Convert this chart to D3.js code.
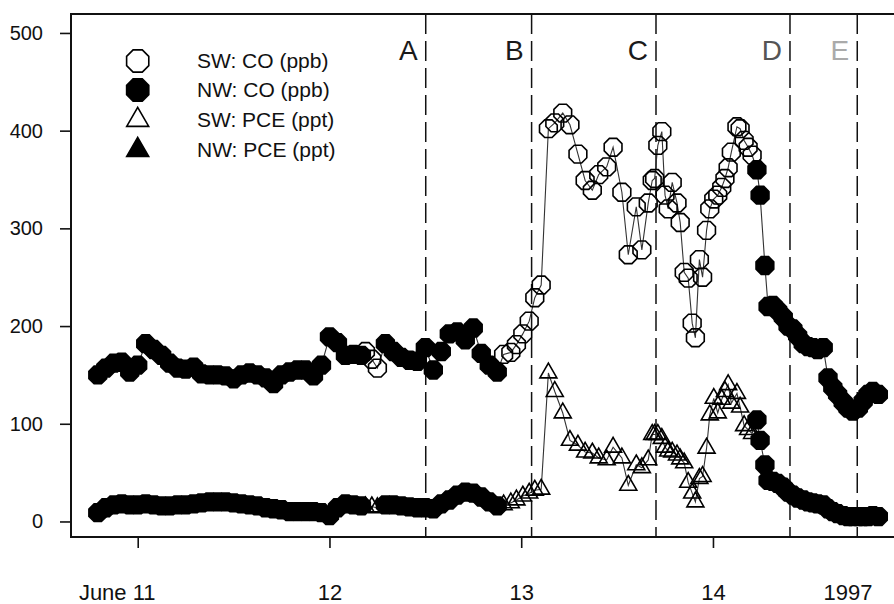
<!DOCTYPE html>
<html>
<head>
<meta charset="utf-8">
<script src="https://cdn.jsdelivr.net/npm/d3@7"></script>
<style>
  body { margin: 0; background: #fff; }
  text { font-family: "Liberation Sans", Arial, Helvetica, sans-serif; fill: #111; }
</style>
</head>
<body>
<svg id="chart"></svg>
<script>
// time in hours after June 11 00:00
const hours = [
  -5, -4, -3, -2, -1, 0, 1, 2, 3, 4, 5, 6, 7, 8, 9, 10, 11, 12, 13, 14, 15, 16, 17, 18, 19, 20, 21, 22, 23,
  24, 25, 26, 27, 28, 28.5, 29.3, 30, 31, 32, 33, 34, 35, 36, 37, 38, 39, 40, 41, 42, 43, 44, 45,
  45.8, 46.7, 47.4, 48.2, 49.0, 49.7, 50.5, 51.4, 52.2, 53.2, 54.1, 55.1, 56.0, 56.9, 57.7, 58.7, 59.5,
  60.6, 61.4, 62.4, 63.1, 63.9, 64.4, 64.7, 65.1, 65.6, 66.0, 66.4, 66.9, 67.5, 67.9, 68.4, 68.9, 69.4,
  69.8, 70.3, 70.7, 71.2, 71.6, 72.1, 72.6, 73.1, 73.5, 73.9, 74.3, 75.0, 75.4, 75.9, 76.4, 76.9,
  77.5, 77.9, 78.5, 78.9, 79.5, 80.1, 80.8, 81.4, 82.0, 82.6, 83.3, 83.9, 84.5, 85.1, 85.8, 86.4,
  87.0, 87.6, 88.3, 88.9, 89.5, 90.2, 90.8, 91.4, 92.0, 92.7
];
const coPpb = [
  150, 157, 162, 163, 153, 160, 182, 176, 170, 162, 157, 156, 158, 151, 150, 150, 149, 146, 150, 152, 150, 147, 141, 150, 153, 155, 155, 149, 160,
  189, 183, 170, 171, 170, 174, 166, 157, 182, 174, 168, 165, 164, 178, 155, 174, 192, 194, 186, 198, 172, 160, 153,
  171, 173, 181, 192, 205, 229, 242, 402, 408, 418, 406, 376, 349, 339, 355, 363, 383,
  337, 273, 322, 278, 326, 349, 351, 385, 399, 334, 320, 347, 326, 306, 255, 249, 203,
  188, 268, 250, 298, 320, 330, 334, 342, 351, 362, 378, 404, 402, 390, 383, 375,
  360, 334, 262, 220, 221, 216, 209, 200, 197, 190, 182, 179, 178, 176, 178, 147,
  137, 130, 122, 116, 113, 116, 123, 130, 133, 130
];
const pcePpt = [
  9, 14, 17, 18, 17, 17, 18, 17, 16, 16, 17, 17, 18, 19, 20, 20, 20, 19, 18, 17, 16, 14, 13, 12, 10, 10, 10, 10, 9,
  6, 14, 18, 17, 16, 15, 15, 14, 17, 17, 16, 15, 14, 14, 13, 18, 22, 27, 30, 29, 25, 20, 16,
  17, 19, 22, 26, 29, 32, 33, 152, 133, 111, 83, 78, 71, 70, 65, 63, 76,
  65, 37, 58, 55, 63, 89, 89, 89, 85, 76, 72, 71, 68, 64, 60, 40, 29,
  20, 44, 46, 75, 109, 126, 111, 125, 133, 140, 121, 131, 117, 98, 94, 90,
  104, 83, 58, 42, 41, 39, 35, 30, 27, 24, 22, 20, 19, 18, 17, 13,
  10, 8, 6, 5, 5, 5, 5, 5, 6, 5
];
// wind sector of each sample
const swHours = [28.5, 29.3, 30];
const swStart = 45.8, swEnd = 76.9;

const regionNames = ["A", "B", "C", "D", "E"];
const regionBounds = [36.05, 49.3, 64.87, 81.64, 90.06];
const regionColors = ["#1a1a1a", "#1a1a1a", "#1a1a1a", "#555", "#aaa"];

const xTickHours = [0, 24, 48, 72];
const xTickLabels = ["June 11", "12", "13", "14"];
const yearLabel = "1997";
const yearHour = 88.9;
const yTicks = [0, 100, 200, 300, 400, 500];

const legendLabels = ["SW: CO (ppb)", "NW: CO (ppb)", "SW: PCE (ppt)", "NW: PCE (ppt)"];

const width = 894;
const height = 604;
const plotLeft = 71, plotTop = 14, plotRight = 900, plotBottom = 537;

const rows = hours.map((h, i) => ({
  h: h,
  co: coPpb[i],
  pce: pcePpt[i],
  sw: swHours.includes(h) || (h >= swStart && h <= swEnd)
}));

const svg = d3.select("#chart")
  .attr("width", width)
  .attr("height", height);

const x = d3.scaleLinear()
  .domain([-8.35, 95.41])
  .range([plotLeft, plotRight]);

const y = d3.scaleLinear()
  .domain([-15.9, 519.4])
  .range([plotBottom, plotTop]);

// 마커 모양
function octagon(r) {
  const pts = d3.range(8).map(i => {
    const a = Math.PI / 8 + i * Math.PI / 4;
    return [r * Math.cos(a), r * Math.sin(a)];
  });
  return "M" + pts.join("L") + "Z";
}
function triangle(s) {
  const h = s * Math.sqrt(3) / 2;
  return `M0,${-2 * h / 3}L${s / 2},${h / 3}L${-s / 2},${h / 3}Z`;
}

// axes
svg.append("g")
  .attr("transform", `translate(${plotLeft},0)`)
  .call(d3.axisLeft(y).tickValues(yTicks).tickSize(11).tickPadding(17))
  .call(g => g.select(".domain").remove())
  .call(g => g.selectAll("line").attr("stroke", "#111").attr("stroke-width", 1.6))
  .call(g => g.selectAll("text").attr("font-size", 20).attr("font-family", null));

const xAxis = svg.append("g")
  .attr("transform", `translate(0,${plotBottom})`)
  .call(d3.axisBottom(x).tickValues(xTickHours).tickFormat((d, i) => xTickLabels[i]).tickSize(11).tickPadding(36))
  .call(g => g.select(".domain").remove())
  .call(g => g.selectAll("line").attr("stroke", "#111").attr("stroke-width", 1.6))
  .call(g => g.selectAll("text").attr("font-size", 22).attr("font-family", null));
xAxis.selectAll("text").filter((d, i) => i === 0).attr("dx", -21);

svg.append("text")
  .attr("x", x(yearHour))
  .attr("y", 600)
  .attr("text-anchor", "middle")
  .attr("font-size", 22)
  .text(yearLabel);

// frame
svg.append("rect")
  .attr("x", plotLeft).attr("y", plotTop)
  .attr("width", plotRight - plotLeft).attr("height", plotBottom - plotTop)
  .attr("fill", "none")
  .attr("stroke", "#111")
  .attr("stroke-width", 2);

// region boundaries
svg.selectAll(".bound")
  .data(regionBounds)
  .enter()
  .append("line")
  .attr("x1", d => x(d)).attr("x2", d => x(d))
  .attr("y1", plotTop).attr("y2", plotBottom)
  .attr("stroke", "#111")
  .attr("stroke-width", 1.5)
  .attr("stroke-dasharray", "20,7");

svg.selectAll(".region")
  .data(regionBounds)
  .enter()
  .append("text")
  .attr("x", d => x(d) - 8)
  .attr("y", 60)
  .attr("text-anchor", "end")
  .attr("font-size", 28)
  .style("fill", (d, i) => regionColors[i])
  .text((d, i) => regionNames[i]);

// connecting lines
const coLine = d3.line().x(d => x(d.h)).y(d => y(d.co));
const pceLine = d3.line().x(d => x(d.h)).y(d => y(d.pce));

svg.append("path").datum(rows)
  .attr("d", coLine)
  .attr("fill", "none").attr("stroke", "#333").attr("stroke-width", 1.1);
svg.append("path").datum(rows)
  .attr("d", pceLine)
  .attr("fill", "none").attr("stroke", "#333").attr("stroke-width", 1.1);

// markers
svg.selectAll(".co")
  .data(rows)
  .enter()
  .append("path")
  .attr("transform", d => `translate(${x(d.h)},${y(d.co)})`)
  .attr("d", octagon(9.6))
  .attr("fill", d => d.sw ? "none" : "#000")
  .attr("stroke", "#000")
  .attr("stroke-width", 1.6);

// NW PCE samples come out as filled octagons in the original plot
svg.selectAll(".pce")
  .data(rows)
  .enter()
  .append("path")
  .attr("transform", d => `translate(${x(d.h)},${y(d.pce)})`)
  .attr("d", d => d.sw ? triangle(17) : octagon(9.6))
  .attr("fill", d => d.sw ? "none" : "#000")
  .attr("stroke", "#000")
  .attr("stroke-width", 1.6)
  .attr("stroke-linejoin", "miter");

// legend
const legendY = [61, 90, 120, 150];
const legend = svg.append("g");
legendLabels.forEach((label, i) => {
  legend.append("path")
    .attr("transform", `translate(137.7,${legendY[i]})`)
    .attr("d", i < 2 ? octagon(12) : triangle(22))
    .attr("fill", i % 2 === 0 ? "#fff" : "#000")
    .attr("stroke", "#000")
    .attr("stroke-width", 1.6);
  legend.append("text")
    .attr("x", 197)
    .attr("y", legendY[i])
    .attr("dy", "0.35em")
    .attr("font-size", 21)
    .text(label);
});
</script>
</body>
</html>
